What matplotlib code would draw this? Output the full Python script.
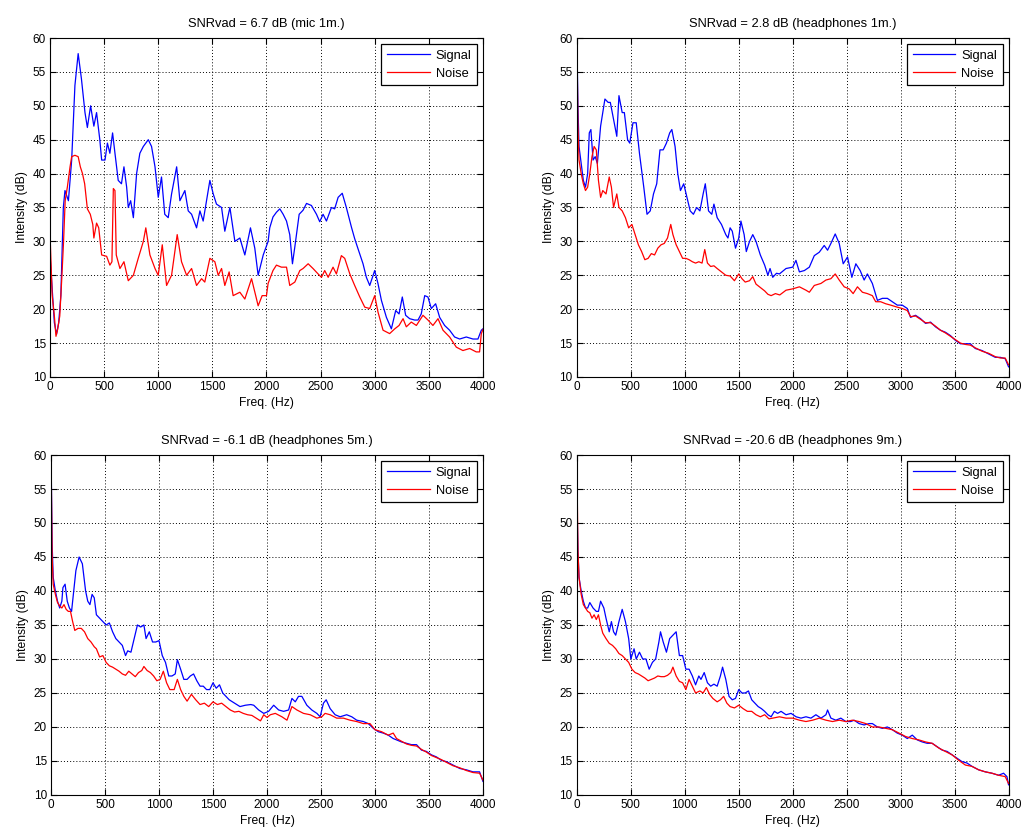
import matplotlib
matplotlib.use("Agg")
import matplotlib.pyplot as plt

plt.rcParams['font.family'] = ['Liberation Sans', 'DejaVu Sans']

# (freq Hz, intensity dB), one list per curve
mic1m_signal = [
    (0, 28), (20, 23), (40, 18), (60, 16.3), (80, 18), (100, 22), (123, 35), (138, 37.5),
    (170, 36), (200, 42), (230, 53), (260, 57.7), (290, 54), (323, 49), (345, 46.8),
    (375, 50), (405, 47), (430, 49), (460, 45), (477, 42), (508, 42), (530, 44.5),
    (553, 43), (578, 46), (600, 43), (630, 39), (660, 38.5), (683, 41), (708, 38),
    (723, 35), (745, 36), (770, 33.5), (800, 40), (830, 43), (862, 44), (908, 45),
    (938, 44), (970, 41), (1000, 36.5), (1030, 39.5), (1060, 34), (1092, 33.5),
    (1123, 37), (1170, 41), (1200, 36), (1246, 37.5), (1277, 34.5), (1308, 34),
    (1354, 32), (1385, 34.5), (1415, 33), (1446, 36), (1477, 39), (1508, 37),
    (1538, 35.5), (1585, 35), (1615, 31.5), (1662, 35), (1708, 30), (1754, 30.5),
    (1800, 28), (1852, 32), (1892, 29), (1923, 25), (1970, 28), (2015, 30), (2030, 32),
    (2060, 33.6), (2092, 34.3), (2123, 34.8), (2154, 34), (2185, 33), (2215, 31),
    (2240, 26.7), (2262, 29.2), (2302, 34), (2338, 34.6), (2370, 35.6), (2415, 35.3),
    (2462, 34), (2492, 32.9), (2523, 34), (2554, 33), (2600, 35), (2630, 34.8),
    (2662, 36.5), (2700, 37.1), (2738, 35), (2785, 32.1), (2815, 30.4), (2846, 28.9),
    (2892, 26.7), (2923, 24.7), (2954, 23.5), (3000, 25.7), (3030, 23.8), (3062, 21.3),
    (3108, 18.8), (3154, 17.1), (3194, 19.8), (3225, 19.3), (3255, 21.8), (3286, 19.1),
    (3323, 18.6), (3369, 18.4), (3400, 18.4), (3430, 19.3), (3462, 22), (3492, 21.8),
    (3523, 20.1), (3563, 20.8), (3600, 18.8), (3646, 17.6), (3692, 16.9), (3738, 15.9),
    (3785, 15.6), (3846, 15.9), (3908, 15.6), (3954, 15.6), (3985, 16.9), (4000, 17.1),
]
mic1m_noise = [
    (0, 31), (20, 22), (40, 19), (55, 16), (70, 17), (90, 19), (110, 25), (125, 30),
    (140, 36), (160, 38), (185, 41), (200, 42.5), (230, 42.7), (260, 42.5), (280, 41),
    (300, 40), (320, 38.5), (345, 34.8), (372, 34), (395, 32.5), (405, 30.5), (430, 32.7),
    (450, 32), (477, 28), (523, 27.8), (553, 26.5), (572, 27), (585, 37.8), (600, 37.5),
    (612, 28), (646, 26), (683, 27), (723, 24.2), (770, 25), (815, 27.5), (862, 30),
    (885, 32), (923, 28), (970, 26), (1000, 25), (1037, 29.5), (1077, 23.5), (1123, 25),
    (1175, 31), (1215, 27), (1262, 25), (1308, 26), (1354, 23.5), (1400, 24.5),
    (1430, 24), (1477, 27.5), (1523, 27), (1554, 25), (1585, 26), (1615, 23.5),
    (1655, 25.5), (1692, 22), (1754, 22.5), (1800, 21.5), (1862, 24.5), (1908, 21.5),
    (1923, 20.5), (1960, 22), (2000, 22), (2015, 23.8), (2060, 25.7), (2092, 26.5),
    (2138, 26.2), (2185, 26.2), (2215, 23.5), (2262, 24), (2308, 25.7), (2338, 26),
    (2385, 26.7), (2430, 26), (2477, 25.2), (2508, 24.7), (2538, 25.7), (2570, 24.7),
    (2615, 26.2), (2646, 25.2), (2692, 27.9), (2723, 27.5), (2770, 25.2), (2815, 23.5),
    (2862, 21.8), (2908, 20.3), (2954, 20.1), (3000, 22), (3030, 19.6), (3077, 16.9),
    (3138, 16.4), (3185, 17.1), (3225, 17.6), (3262, 18.6), (3292, 17.4), (3338, 18.1),
    (3385, 17.6), (3446, 19.1), (3492, 18.4), (3538, 17.6), (3585, 18.6), (3631, 16.9),
    (3692, 15.9), (3754, 14.4), (3815, 13.9), (3877, 14.2), (3938, 13.7), (3969, 13.7),
    (3985, 16.4), (4000, 17),
]

hp1m_signal = [
    (0, 60), (10, 50), (20, 44), (40, 41.5), (60, 39), (80, 38), (100, 40), (115, 46),
    (130, 46.5), (150, 42), (170, 42.5), (190, 41.5), (220, 47), (260, 51), (290, 50.5),
    (310, 50.5), (340, 48), (370, 45.5), (390, 51.5), (420, 49), (440, 49), (470, 45),
    (490, 44.5), (520, 47.5), (550, 47.5), (580, 43), (620, 38), (650, 34), (680, 34.5),
    (710, 37), (740, 38.5), (770, 43.5), (800, 43.5), (830, 44.5), (860, 46), (880, 46.5),
    (910, 44), (935, 40), (960, 37.5), (990, 38.5), (1020, 36.5), (1050, 34.5),
    (1080, 34), (1110, 35), (1140, 34.5), (1170, 37), (1190, 38.5), (1220, 34.5),
    (1250, 34), (1270, 35.5), (1300, 33.5), (1340, 32.5), (1380, 31), (1400, 30.5),
    (1420, 32), (1440, 31.5), (1470, 29), (1500, 30.5), (1520, 33), (1550, 31),
    (1570, 28.5), (1600, 30), (1630, 31), (1660, 30), (1700, 28), (1740, 26.5),
    (1770, 25), (1790, 26), (1815, 24.7), (1850, 25.3), (1877, 25.2), (1938, 26),
    (2000, 26.2), (2030, 27.2), (2062, 25.5), (2108, 25.7), (2154, 26.2), (2200, 27.9),
    (2246, 28.4), (2292, 29.4), (2323, 28.7), (2354, 29.7), (2394, 31.1), (2431, 29.7),
    (2468, 26.7), (2508, 27.7), (2548, 24.7), (2585, 26.7), (2625, 25.7), (2662, 24.3),
    (2692, 25.2), (2738, 23.8), (2785, 21.3), (2831, 21.6), (2877, 21.6), (2923, 21.1),
    (2969, 20.6), (3015, 20.6), (3062, 20.1), (3092, 18.8), (3138, 19.1), (3185, 18.6),
    (3231, 17.9), (3277, 18.1), (3323, 17.4), (3369, 16.9), (3415, 16.6), (3462, 16.1),
    (3508, 15.4), (3554, 14.9), (3600, 14.9), (3646, 14.9), (3692, 14.2), (3754, 13.9),
    (3815, 13.4), (3877, 12.9), (3923, 12.9), (3969, 12.7), (4000, 11.5),
]
hp1m_noise = [
    (0, 60), (10, 47), (20, 42), (40, 40), (60, 38.5), (80, 37.5), (100, 38), (120, 40),
    (140, 42.5), (160, 44), (180, 43.5), (200, 39), (220, 36.5), (240, 37.5), (270, 37),
    (300, 39.5), (320, 38), (340, 35), (370, 37), (390, 35), (420, 34.5), (450, 33.5),
    (480, 32), (510, 32.5), (540, 31), (570, 29.5), (600, 28.5), (630, 27.3), (660, 27.5),
    (690, 28.2), (720, 28), (750, 29), (780, 29.5), (810, 29.7), (840, 30.5), (870, 32.5),
    (890, 31), (920, 29.5), (950, 28.5), (980, 27.5), (1010, 27.5), (1040, 27.3),
    (1070, 27), (1100, 26.8), (1130, 27), (1160, 26.8), (1185, 28.8), (1210, 26.8),
    (1240, 26.3), (1270, 26.4), (1300, 26), (1340, 25.5), (1380, 25), (1420, 24.9),
    (1460, 24.2), (1500, 25.2), (1530, 24.5), (1560, 24), (1600, 24.2), (1630, 24.8),
    (1660, 23.7), (1700, 23.2), (1740, 22.7), (1770, 22.2), (1800, 22.0), (1840, 22.3),
    (1880, 22.1), (1938, 22.8), (2000, 23), (2062, 23.3), (2123, 22.8), (2154, 22.5),
    (2200, 23.5), (2262, 23.8), (2308, 24.3), (2354, 24.5), (2394, 25.2), (2431, 24.3),
    (2477, 23.3), (2523, 23), (2560, 22.3), (2600, 23.3), (2646, 22.5), (2692, 22.3),
    (2738, 22), (2769, 21.1), (2815, 21.1), (2862, 20.8), (2908, 20.6), (2969, 20.3),
    (3015, 20.1), (3062, 19.8), (3092, 18.9), (3138, 19.0), (3185, 18.5), (3231, 18.0),
    (3277, 18.0), (3323, 17.5), (3369, 16.9), (3415, 16.5), (3462, 16.0), (3508, 15.5),
    (3554, 15.0), (3600, 14.8), (3646, 14.7), (3692, 14.3), (3754, 13.8), (3815, 13.5),
    (3877, 13.0), (3923, 12.8), (3969, 12.8), (4000, 11.8),
]

hp5m_signal = [
    (0, 60), (10, 47), (20, 42), (40, 40), (60, 38.5), (80, 37.5), (100, 38.5), (110, 40.5),
    (130, 41), (150, 38.5), (170, 37.5), (190, 37), (210, 40), (230, 43), (260, 45),
    (290, 44), (320, 40), (340, 38.5), (360, 38), (380, 39.5), (400, 39), (420, 36.5),
    (450, 36), (480, 35.5), (510, 35), (540, 35.3), (570, 34), (600, 33), (630, 32.5),
    (660, 32), (690, 30.5), (710, 31.2), (740, 31), (770, 33), (800, 35), (830, 34.7),
    (860, 35), (880, 33), (910, 34), (940, 32.5), (970, 32.5), (1000, 32.7), (1030, 30.5),
    (1060, 29.5), (1090, 27.5), (1120, 27.5), (1150, 27.8), (1170, 29.9), (1200, 28.5),
    (1230, 27), (1260, 27), (1290, 27.5), (1320, 27.8), (1350, 26.8), (1380, 26),
    (1410, 26), (1440, 25.5), (1470, 25.5), (1500, 26.5), (1530, 25.7), (1560, 26.2),
    (1590, 25), (1620, 24.5), (1650, 24), (1700, 23.5), (1750, 23), (1800, 23.2),
    (1850, 23.3), (1877, 23.2), (1923, 22.5), (1970, 22), (2015, 22.3), (2062, 23.2),
    (2108, 22.5), (2154, 22.3), (2200, 22.5), (2231, 24.2), (2262, 23.7), (2292, 24.5),
    (2323, 24.5), (2369, 23.2), (2415, 22.5), (2462, 22), (2492, 21.5), (2523, 23.5),
    (2548, 24), (2585, 22.7), (2631, 21.8), (2677, 21.5), (2738, 21.8), (2785, 21.5),
    (2831, 21), (2892, 20.8), (2938, 20.5), (2985, 19.8), (3031, 19.3), (3077, 19.1),
    (3123, 18.8), (3169, 18.3), (3200, 18.1), (3246, 17.8), (3292, 17.6), (3338, 17.4),
    (3385, 17.4), (3431, 16.6), (3477, 16.4), (3523, 15.9), (3569, 15.6), (3615, 15.1),
    (3662, 14.9), (3723, 14.4), (3785, 13.9), (3846, 13.7), (3908, 13.4), (3969, 13.4),
    (4000, 12),
]
hp5m_noise = [
    (0, 60), (10, 45), (20, 41), (40, 39.5), (60, 38.3), (80, 37.8), (100, 37.5), (120, 38),
    (140, 37.3), (160, 37), (180, 37), (200, 35.5), (220, 34.2), (250, 34.5), (280, 34.5),
    (310, 34), (340, 33), (370, 32.5), (400, 31.8), (420, 31.5), (450, 30.3), (480, 30.5),
    (510, 29.5), (540, 29), (570, 28.8), (600, 28.5), (630, 28.2), (660, 27.8), (690, 27.6),
    (720, 28.2), (750, 27.8), (780, 27.4), (810, 28), (840, 28.3), (860, 28.9), (890, 28.3),
    (920, 28), (950, 27.5), (980, 26.8), (1010, 27), (1040, 28.2), (1070, 26.5),
    (1100, 25.5), (1140, 25.5), (1170, 27), (1200, 25.5), (1230, 24.5), (1260, 23.8),
    (1300, 24.8), (1340, 24), (1380, 23.3), (1420, 23.5), (1460, 23), (1500, 23.7),
    (1540, 23.3), (1580, 23.5), (1620, 23), (1660, 22.5), (1700, 22.2), (1740, 22.3),
    (1780, 22), (1820, 21.8), (1860, 21.7), (1900, 21.3), (1940, 20.9), (1970, 21.8),
    (2000, 21.4), (2031, 21.8), (2077, 22), (2138, 21.5), (2185, 21), (2231, 23),
    (2277, 22.5), (2338, 22), (2400, 21.8), (2462, 21.3), (2508, 21.5), (2538, 22),
    (2585, 21.8), (2646, 21.3), (2708, 21.3), (2769, 21), (2831, 20.8), (2892, 20.5),
    (2954, 20.5), (3000, 19.6), (3062, 19.3), (3123, 18.8), (3169, 19.1), (3200, 18.3),
    (3246, 17.9), (3292, 17.5), (3338, 17.3), (3385, 17.2), (3431, 16.7), (3477, 16.3),
    (3523, 15.8), (3569, 15.5), (3615, 15.2), (3662, 14.8), (3723, 14.3), (3785, 14.0),
    (3846, 13.6), (3908, 13.3), (3969, 13.2), (4000, 12.2),
]

hp9m_signal = [
    (0, 54), (10, 46), (20, 42), (40, 40), (60, 38.5), (80, 37.5), (100, 37.5), (120, 38.3),
    (150, 37.5), (180, 37), (200, 37), (220, 38.5), (250, 37.5), (270, 36), (300, 34),
    (320, 35.5), (340, 34), (360, 33.5), (390, 35.5), (420, 37.3), (450, 35.5), (480, 33),
    (500, 30), (530, 31.5), (550, 30), (580, 31), (610, 30), (640, 30), (670, 28.5),
    (700, 29.5), (730, 30), (760, 32.5), (775, 34), (800, 32.5), (830, 31), (860, 33),
    (890, 33.5), (920, 34), (950, 30.5), (980, 30.5), (1010, 28.5), (1040, 28.5),
    (1070, 27.5), (1100, 26.2), (1130, 27.5), (1150, 27), (1180, 28), (1210, 26.5),
    (1240, 26), (1270, 26.3), (1300, 26), (1330, 27.5), (1350, 28.8), (1380, 27),
    (1410, 24.5), (1440, 24), (1470, 24.2), (1500, 25.5), (1530, 25), (1560, 25),
    (1590, 25.3), (1620, 24), (1650, 23.5), (1680, 23), (1710, 22.7), (1740, 22.3),
    (1770, 21.8), (1800, 21.5), (1830, 22.3), (1860, 22), (1892, 22.3), (1938, 21.8),
    (1985, 22), (2031, 21.5), (2077, 21.3), (2123, 21.5), (2169, 21.3), (2215, 21.8),
    (2262, 21.3), (2308, 21.8), (2323, 22.5), (2354, 21.3), (2400, 21), (2446, 21.3),
    (2492, 20.8), (2538, 20.8), (2569, 21), (2615, 20.5), (2662, 20.3), (2708, 20.5),
    (2738, 20.5), (2785, 20), (2831, 19.8), (2877, 20), (2923, 19.6), (2969, 19.1),
    (3015, 18.8), (3062, 18.3), (3108, 18.8), (3154, 18.1), (3200, 17.8), (3246, 17.6),
    (3292, 17.6), (3338, 17.1), (3385, 16.6), (3431, 16.4), (3477, 15.9), (3523, 15.4),
    (3569, 14.9), (3615, 14.7), (3662, 14.2), (3723, 13.7), (3785, 13.4), (3846, 13.2),
    (3908, 12.9), (3954, 13.2), (3985, 12.7), (4000, 11.5),
]
hp9m_noise = [
    (0, 59), (10, 46), (20, 42), (40, 39.5), (60, 38), (80, 37.5), (100, 37), (120, 36.8),
    (140, 36), (160, 36.5), (180, 35.8), (200, 36.5), (220, 35), (240, 33.8), (270, 33),
    (300, 32.3), (330, 32), (360, 31.5), (390, 30.8), (420, 30.5), (450, 30), (480, 29.5),
    (510, 28.5), (540, 28), (570, 27.8), (600, 27.5), (630, 27.2), (660, 26.8), (690, 27),
    (720, 27.2), (750, 27.5), (780, 27.4), (810, 27.4), (840, 27.6), (870, 28), (890, 28.8),
    (920, 27.5), (950, 26.7), (980, 26.5), (1010, 25.5), (1040, 27), (1070, 26),
    (1100, 25), (1140, 25.3), (1170, 25), (1200, 25.8), (1230, 24.8), (1260, 24.2),
    (1300, 23.7), (1330, 24), (1360, 24.5), (1390, 23.5), (1420, 23), (1460, 22.8),
    (1500, 23.2), (1540, 22.7), (1580, 22.3), (1620, 22.3), (1660, 21.8), (1700, 21.5),
    (1740, 21.8), (1780, 21.2), (1815, 21.3), (1877, 21.5), (1938, 21.3), (2000, 21.3),
    (2062, 21), (2123, 20.8), (2185, 21), (2246, 21.3), (2308, 21), (2369, 20.8),
    (2431, 21), (2492, 20.8), (2554, 21), (2615, 20.8), (2677, 20.5), (2738, 20),
    (2800, 20), (2862, 19.8), (2923, 19.6), (2985, 19.1), (3046, 18.6), (3108, 18.3),
    (3169, 18.1), (3231, 17.8), (3292, 17.6), (3354, 16.9), (3415, 16.4), (3477, 15.9),
    (3538, 15.1), (3600, 14.4), (3662, 14.2), (3723, 13.7), (3785, 13.4), (3846, 13.2),
    (3908, 12.9), (3969, 12.7), (4000, 11.7),
]

titles = [
    "SNRvad = 6.7 dB (mic 1m.)",
    "SNRvad = 2.8 dB (headphones 1m.)",
    "SNRvad = -6.1 dB (headphones 5m.)",
    "SNRvad = -20.6 dB (headphones 9m.)",
]
panels = [
    (mic1m_signal, mic1m_noise),
    (hp1m_signal, hp1m_noise),
    (hp5m_signal, hp5m_noise),
    (hp9m_signal, hp9m_noise),
]

# axes boxes in figure fractions [left, bottom, width, height]
boxes = [
    [0.049, 0.5458, 0.4240, 0.4084],
    [0.565, 0.5458, 0.4228, 0.4084],
    [0.050, 0.0422, 0.4230, 0.4096],
    [0.565, 0.0422, 0.4228, 0.4096],
]

fig = plt.figure(figsize=(10.21, 8.30), dpi=100)

for box, title, (sig, noi) in zip(boxes, titles, panels):
    ax = fig.add_axes(box)
    fs, vs = zip(*sig)
    fn, vn = zip(*noi)
    ax.plot(fs, vs, color='#0000ff', lw=0.9, label='Signal')
    ax.plot(fn, vn, color='#ff0000', lw=0.9, label='Noise')
    ax.set_xlim(0, 4000)
    ax.set_ylim(10, 60)
    ax.set_xticks(range(0, 4001, 500))
    ax.set_yticks(range(10, 61, 5))
    ax.grid(True, color='black', linestyle=(0, (1, 2.2)), linewidth=0.7)
    ax.tick_params(direction='in', top=True, right=True, labelsize=8.5,
                   length=4, width=0.8, pad=3)
    for sp in ax.spines.values():
        sp.set_linewidth(0.8)
    ax.set_title(title, fontsize=9.3, pad=8)
    ax.set_xlabel("Freq. (Hz)", fontsize=8.7, labelpad=3)
    ax.set_ylabel("Intensity (dB)", fontsize=8.7, labelpad=3)
    leg = ax.legend(loc='upper right', fontsize=9.3, fancybox=False,
                    edgecolor='black', framealpha=1, handlelength=3.3,
                    borderaxespad=0.45, labelspacing=0.45, borderpad=0.45,
                    handletextpad=0.45)
    leg.get_frame().set_linewidth(0.9)

fig.savefig("out.png", dpi=100)
